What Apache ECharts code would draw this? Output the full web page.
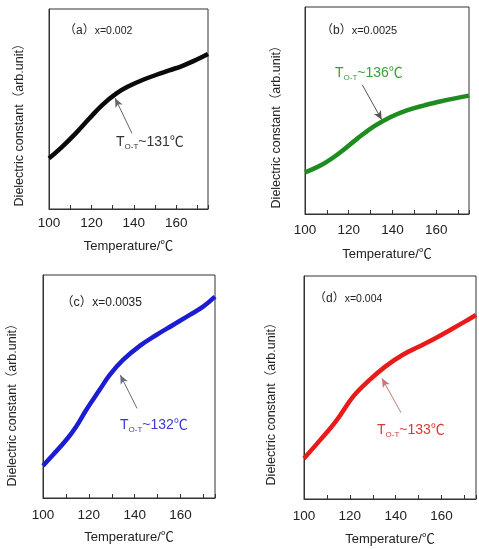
<!DOCTYPE html>
<html>
<head>
<meta charset="utf-8">
<script src="https://cdn.jsdelivr.net/npm/echarts@6/dist/echarts.min.js"></script>
<style>
  html, body { margin: 0; padding: 0; background: #fff; }
  #chart { width: 479px; height: 549px; }
</style>
</head>
<body>
<div id="chart"></div>
<script>
// temperature (deg C) and relative dielectric constant (0-100, arb.)
const tempA = [100, 106.3, 112.6, 118.9, 125.2, 131.5, 137.8, 144.1, 150.4, 156.7, 163, 169.3, 175];
const valA  = [25.3, 31.2, 37.8, 45.1, 52.1, 57.6, 61.5, 64.5, 67, 69.3, 71.6, 74.5, 77.5];

const tempB = [100, 108.5, 116.2, 123.8, 131.5, 139.2, 146.9, 154.6, 162.3, 175];
const valB  = [20.1, 24.3, 29.8, 36.3, 42.3, 46.9, 50.2, 52.5, 54.5, 57.2];

const tempC = [100, 104.4, 110.2, 114.5, 118.9, 124.7, 129.1, 134.9, 142.2, 149.4, 156.7, 164, 169.8, 175];
const valC  = [14.5, 19.4, 26.1, 32.1, 39.6, 48.5, 55.2, 61.9, 68.2, 73.1, 77.6, 82.1, 85.8, 90.3];

const tempD = [100, 107.1, 114.3, 121.4, 128.6, 135.7, 142.9, 150, 157.1, 164.3, 171.4, 175];
const valD  = [18.2, 26.5, 35.4, 45.9, 53.4, 59.6, 64.6, 68.3, 72, 76.1, 80.3, 82.5];

const panelTags = ['（a）', '（b）', '（c）', '（d）'];
const panelX = ['x=0.002', 'x=0.0025', 'x=0.0035', 'x=0.004'];
const transT = ['131', '136', '132', '133'];
// arrow tail -> head, in data coords [temp, value]
const arrows = [
  [[139.1, 37.9], [131.2, 55.4]],
  [[126.2, 62.4], [135.1, 45.5]],
  [[141.0, 40.2], [133.7, 55.2]],
  [[142.3, 38.7], [134.0, 54.1]]
];

const FONT = '"Liberation Sans", Arial, "Noto Sans CJK SC", sans-serif';
const lineColors = ['#0a0a0a', '#1f8c1f', '#1c1cd2', '#e81a1a'];
const textColors = ['#333', '#35a035', '#3a3ad0', '#d83838'];
const arrowColors = ['#666', '#555', '#6a6a8a', '#c87878'];

const grids = [
  { left: 49, top: 9, width: 159, height: 200 },
  { left: 305, top: 7, width: 164, height: 207 },
  { left: 43, top: 275, width: 172, height: 223 },
  { left: 304, top: 276, width: 176, height: 223 }
];
const labelMargin = [8, 10, 11, 11];
const nameGap = [31, 34, 33, 34];

const pairs = (xs, ys) => xs.map((x, i) => [x, ys[i]]);
const data = [pairs(tempA, valA), pairs(tempB, valB), pairs(tempC, valC), pairs(tempD, valD)];

const chart = echarts.init(document.getElementById('chart'));

const option = {
  animation: false,
  backgroundColor: '#fff',
  grid: grids.map(g => Object.assign({ show: true, borderColor: '#333', borderWidth: 1, backgroundColor: 'transparent' }, g)),
  xAxis: grids.map((g, i) => ({
    gridIndex: i,
    type: 'value',
    min: 100,
    max: 175,
    interval: 10,
    name: 'Temperature/℃',
    nameLocation: 'middle',
    nameGap: nameGap[i],
    nameTextStyle: { fontFamily: FONT, fontSize: 13, color: '#222' },
    axisLine: { show: true, onZero: false, lineStyle: { color: '#333', width: 1 } },
    axisTick: { show: true, inside: true, length: 4, lineStyle: { color: '#333' } },
    axisLabel: {
      margin: labelMargin[i],
      fontFamily: FONT,
      fontSize: 13.5,
      color: '#222',
      showMaxLabel: true,
      formatter: v => (v % 20 === 0 ? String(v) : '')
    },
    splitLine: { show: false }
  })),
  yAxis: grids.map((g, i) => ({
    gridIndex: i,
    type: 'value',
    min: 0,
    max: 100,
    axisLine: { show: true, lineStyle: { color: '#333', width: 1 } },
    axisTick: { show: false },
    axisLabel: { show: false },
    splitLine: { show: false }
  })),
  series: data.map((d, i) => ({
    type: 'line',
    xAxisIndex: i,
    yAxisIndex: i,
    data: d,
    smooth: 0.4,
    showSymbol: false,
    lineStyle: { color: lineColors[i], width: 4.5 },
    markLine: {
      silent: true,
      symbol: ['none', 'arrow'],
      symbolSize: [6, 9],
      label: { show: false },
      lineStyle: { color: arrowColors[i], width: 1, type: 'solid' },
      data: [[{ coord: arrows[i][0] }, { coord: arrows[i][1] }]]
    }
  }))
};

// text annotations (positions are layout, in pixels)
const yTitle = [[20, 122], [277, 124], [13, 402], [272, 401]];
const tagPos = [[64, 31], [321, 31], [61, 303], [314, 299]];
const tagSize = [[12, 10.5], [12, 11], [12.5, 12], [12, 10.5]];
const tPos = [[116, 142], [335, 73], [120, 425], [377, 430]];

const graphic = [];
for (let i = 0; i < 4; i++) {
  graphic.push({
    type: 'text',
    x: yTitle[i][0],
    y: yTitle[i][1],
    rotation: Math.PI / 2,
    style: {
      text: 'Dielectric constant（arb.unit）',
      fontFamily: FONT,
      fontSize: 12.5,
      fill: '#222',
      align: 'center',
      verticalAlign: 'middle'
    }
  });
  graphic.push({
    type: 'text',
    x: tagPos[i][0],
    y: tagPos[i][1],
    style: {
      text: '{p|' + panelTags[i] + '}{x|' + panelX[i] + '}',
      align: 'left',
      verticalAlign: 'middle',
      rich: {
        p: { fontFamily: FONT, fontSize: tagSize[i][0], fill: '#222' },
        x: { fontFamily: FONT, fontSize: tagSize[i][1], fill: '#222' }
      }
    }
  });
  graphic.push({
    type: 'text',
    x: tPos[i][0],
    y: tPos[i][1],
    style: {
      text: '{t|T}{s|O-T}{t|~' + transT[i] + '℃}',
      align: 'left',
      verticalAlign: 'middle',
      rich: {
        t: { fontFamily: FONT, fontSize: 14, fill: textColors[i], lineHeight: 18 },
        s: { fontFamily: FONT, fontSize: 8, fill: textColors[i], lineHeight: 18, padding: [9, 0, 0, 0] }
      }
    }
  });
}
option.graphic = graphic;

chart.setOption(option);
</script>
</body>
</html>
